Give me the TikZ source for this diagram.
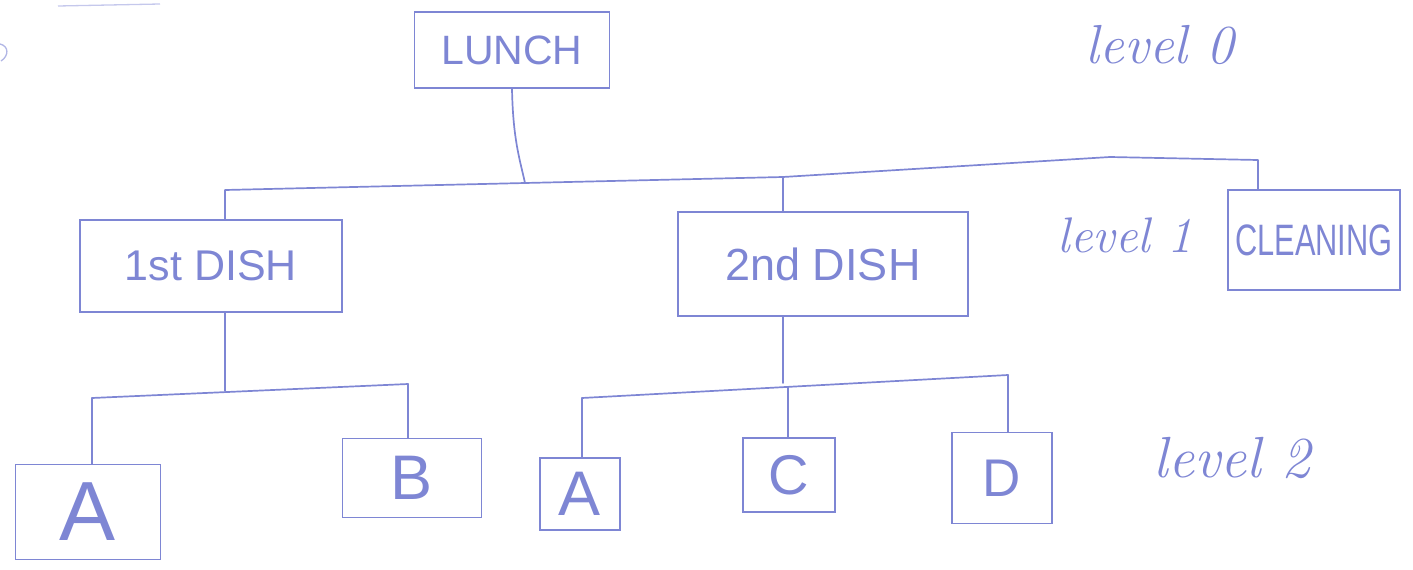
\documentclass[tikz,border=0pt]{standalone}
\usepackage{fontspec}
\setsansfont{Liberation Sans}
\definecolor{ink}{RGB}{126,134,212}
\begin{document}
\begin{tikzpicture}[x=1pt,y=-1pt,
  box/.style={draw=ink, line width=1.7pt, rectangle, inner sep=0pt, text=ink},
  lvl/.style={text=ink, inner sep=0pt},
  conn/.style={draw=ink, line width=1.7pt, line cap=round, line join=round}]
\useasboundingbox (0,0) rectangle (1413,570);
% scan marks at the top left
\draw[ink!45, line width=1.3pt] (58,6) -- (160,4);
\draw[ink!60, line width=1.3pt] (0,44) .. controls (9,46) and (9,56) .. (1,61);
% level 0
\node[box, minimum width=195pt, minimum height=76pt, font=\sffamily\fontsize{41}{48}\selectfont] (lunch) at (512,50) {LUNCH};
% level 1
\node[box, minimum width=262pt, minimum height=92pt, font=\sffamily\fontsize{43}{50}\selectfont] (d1) at (211,266) {1st DISH};
\node[box, minimum width=290pt, minimum height=104pt, font=\sffamily\fontsize{45}{52}\selectfont] (d2) at (823,264) {2nd DISH};
\node[box, minimum width=172pt, minimum height=100pt, font=\sffamily\fontsize{44}{50}\selectfont] (clean) at (1314,240) {\scalebox{0.7}[1]{CLEANING}};
% level 2
\node[box, minimum width=145pt, minimum height=95pt, font=\sffamily\fontsize{84}{90}\selectfont] (a1) at (88,512) {A};
\node[box, minimum width=139pt, minimum height=79pt, font=\sffamily\fontsize{63}{70}\selectfont] (b) at (412,478) {B};
\node[box, minimum width=80pt, minimum height=72pt, font=\sffamily\fontsize{63}{70}\selectfont] (a2) at (580,494) {A};
\node[box, minimum width=92pt, minimum height=74pt, font=\sffamily\fontsize{56}{62}\selectfont] (c) at (789,475) {C};
\node[box, minimum width=100pt, minimum height=91pt, font=\sffamily\fontsize{53}{60}\selectfont] (d) at (1002,478) {D};
% level labels
\node[lvl, font=\itshape\fontsize{55}{60}\selectfont] (lvl0) at (1160,45) {level 0};
\node[lvl, font=\itshape\fontsize{50}{56}\selectfont] (lvl1) at (1125,235) {level 1};
\node[lvl, font=\itshape\fontsize{58}{64}\selectfont] (lvl2) at (1232,458) {level 2};
% connectors level 0 -> level 1
\coordinate (j0) at (525,183);
\coordinate (l1) at (225,190);
\coordinate (m1) at (783,177);
\coordinate (r1a) at (1110,157);
\coordinate (r1) at (1258,160);
\draw[conn] (lunch.south) .. controls (513,140) and (520,160) .. (j0);
\draw[conn] (j0) -- (l1) -- (l1 |- d1.north);
\draw[conn] (j0) -- (m1) -- (m1 |- d2.north);
\draw[conn] (m1) -- (r1a) -- (r1) -- (r1 |- clean.north);
% connectors 1st DISH -> level 2
\coordinate (j1) at (225,391);
\coordinate (a1t) at (92,398);
\coordinate (bt) at (408,384);
\draw[conn] (j1 |- d1.south) -- (j1);
\draw[conn] (a1t) -- (bt);
\draw[conn] (a1t) -- (a1t |- a1.north);
\draw[conn] (bt) -- (bt |- b.north);
% connectors 2nd DISH -> level 2
\coordinate (j2) at (783,383);
\coordinate (a2t) at (582,398);
\coordinate (ct) at (788,387);
\coordinate (dt) at (1008,375);
\draw[conn] (j2 |- d2.south) -- (j2);
\draw[conn] (a2t) -- (dt);
\draw[conn] (a2t) -- (a2t |- a2.north);
\draw[conn] (ct) -- (ct |- c.north);
\draw[conn] (dt) -- (dt |- d.north);
\end{tikzpicture}
\end{document}
